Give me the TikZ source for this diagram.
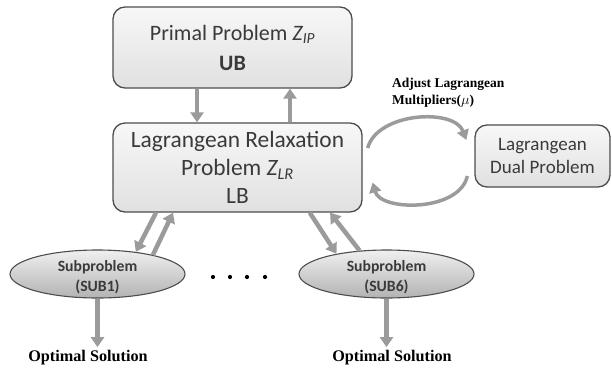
\documentclass[tikz,border=0pt]{standalone}
\usepackage{fontspec}
\newfontfamily\boxfont{Carlito}
\newfontfamily\capfont{Liberation Serif}
\usetikzlibrary{arrows.meta,shapes.geometric}

\definecolor{edgegray}{HTML}{4D4D4D}
\definecolor{flowgray}{HTML}{9B9B9B}
\definecolor{inkgray}{HTML}{3A3A3A}

\begin{document}
\begin{tikzpicture}[x=1pt, y=-1pt,
  problem/.style={draw=edgegray, line width=1.3pt, rounded corners=12pt, top color=black!3, bottom color=black!12, text=inkgray, align=center, inner sep=0pt},
  subprob/.style={ellipse, draw=edgegray, line width=1.1pt, top color=black!6, bottom color=black!30, text=inkgray, align=center, inner sep=-4pt, minimum width=175pt, minimum height=48pt, font=\boxfont\bfseries\fontsize{15.7}{20}\selectfont},
  flow/.style={draw=flowgray, line width=4.5pt, -{Triangle[length=10pt,width=13pt]}},
  cycleflow/.style={draw=flowgray, line width=3.5pt, -{Triangle[length=10pt,width=12pt]}},
  result/.style={font=\capfont\bfseries\fontsize{16.2}{19}\selectfont}]
  \useasboundingbox (0,0) rectangle (612,370);
  % Primal and relaxation
  \node[problem, minimum width=239pt, minimum height=81pt, font=\boxfont\fontsize{22}{30}\selectfont] (primal) at (232.5,47.5) {Primal Problem {\itshape Z\textsubscript{IP}}\\\textbf{UB}};
  \node[problem, minimum width=249pt, minimum height=89pt, font=\boxfont\fontsize{23.4}{28}\selectfont] (lr) at (237.5,167.5) {Lagrangean Relaxation\\Problem {\itshape Z\textsubscript{LR}}\\LB};
  \draw[flow] ([xshift=-35.5pt]primal.south) -- ([xshift=-35.5pt]primal.south |- lr.north);
  \draw[flow] ([xshift=57.5pt]primal.south |- lr.north) -- ([xshift=57.5pt]primal.south);
  % Dual problem and multiplier loop
  \node[problem, minimum width=135pt, minimum height=62pt, font=\boxfont\fontsize{19}{23}\selectfont] (dual) at (542.5,156) {Lagrangean\\Dual Problem};
  \node[anchor=west, align=left, inner sep=0pt, font=\capfont\bfseries\fontsize{13.5}{17}\selectfont] (adjust) at (392,92.5) {Adjust Lagrangean\\Multipliers($\mu$)};
  \draw[cycleflow] ([shift={(5,-19.5)}]lr.east) .. controls +(10,-36) and +(-12,-32) .. ([shift={(-8,-16)}]dual.west);
  \draw[cycleflow] ([shift={(-7,20)}]dual.west) .. controls +(-8,36) and +(8,29) .. ([shift={(10,15)}]lr.east);
  % Subproblems
  \node[subprob] (sub1) at (97.5,274) {\rule{0pt}{17pt}Subproblem\\(SUB1)};
  \node[subprob] (sub6) at (386.5,274) {\rule{0pt}{17pt}Subproblem\\(SUB6)};
  \foreach \x in {213,230,247,265} {
    \fill (\x,277) circle (2.1pt);
  }
  \draw[flow] (lr.209) -- (sub1.30);
  \draw[flow] (sub1.19) -- (lr.215);
  \draw[flow] (lr.328) -- (sub6.158);
  \draw[flow] (sub6.139) -- (lr.334);
  % Solutions
  \node[result] (opt1) at (88,358) {Optimal Solution};
  \node[result] (opt6) at (392,358) {Optimal Solution};
  \draw[flow] (sub1.south) -- (sub1.south |- opt1.north);
  \draw[flow] (sub6.south) -- (sub6.south |- opt6.north);
\end{tikzpicture}
\end{document}
